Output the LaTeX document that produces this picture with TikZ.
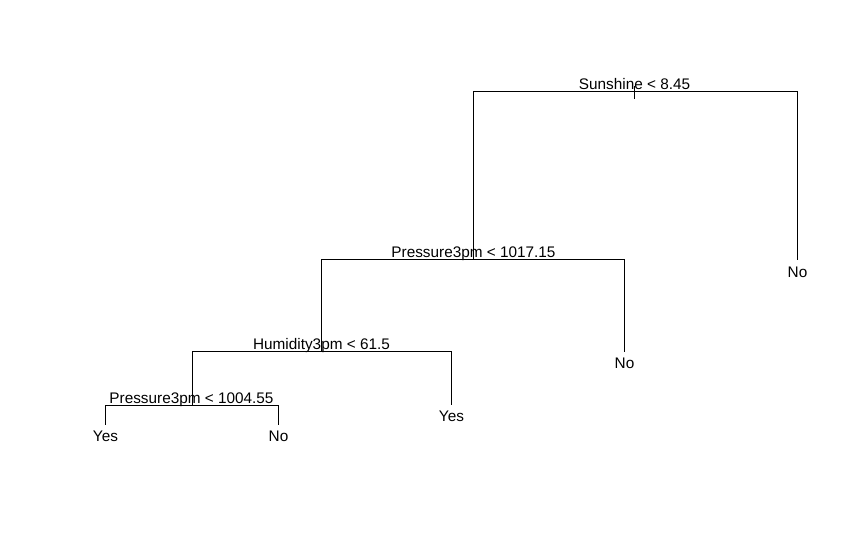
\documentclass[tikz,border=0pt]{standalone}
\usepackage{fontspec}
\setmainfont{Liberation Sans}
\usetikzlibrary{positioning, calc}

\begin{document}
\begin{tikzpicture}[
    x=0.75pt, y=-0.75pt,
    font=\fontsize{11.5}{13}\selectfont,
    ramo/.style={draw, line width=0.75pt},
    teste/.style={anchor=base, inner sep=0pt},
    folha/.style={anchor=north, inner sep=4.5pt},
]
\useasboundingbox (0.5,0.5) rectangle (867.5,538.5);

% ── Divisões (pontos de corte) ──────────────────────
\coordinate (raiz) at (635,92);
\coordinate (pres1) at (474,260);
\coordinate (umid) at (322,352);
\coordinate (pres2) at (193,406);
\coordinate (topo) at (635,87);
\coordinate (base) at (635,100);

% Rótulos das divisões
\node[teste] (tsun)  at (635,90)  {Sunshine < 8.45};
\node[teste] (tpres1) at (474,258) {Pressure3pm < 1017.15};
\node[teste] (tumid) at (322,350) {Humidity3pm < 61.5};
\node[teste] (tpres2) at (192,404) {Pressure3pm < 1004.55};

% ── Folhas ──────────────────────────────────────────
\node[folha] (no1)  at (798,261) {No};
\node[folha] (no2)  at (625,352) {No};
\node[folha] (yes1) at (452,405) {Yes};
\node[folha] (yes2) at (106,425) {Yes};
\node[folha] (no3)  at (279,425) {No};

% ── Ramos ───────────────────────────────────────────
\draw[ramo] (topo) -- (base);
\draw[ramo] (pres1) |- (raiz) -| (no1.north);
\draw[ramo] (umid) |- (pres1) -| (no2.north);
\draw[ramo] (pres2) |- (umid) -| (yes1.north);
\draw[ramo] (yes2.north) |- (pres2) -| (no3.north);

\end{tikzpicture}
\end{document}
